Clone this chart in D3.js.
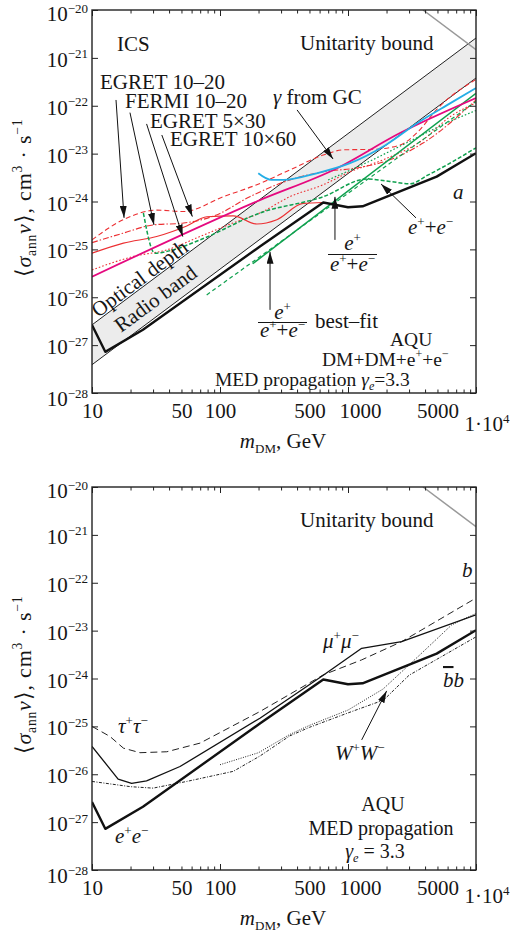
<!DOCTYPE html>
<html>
<head>
<meta charset="utf-8">
<script src="https://cdn.jsdelivr.net/npm/d3@7"></script>
<style>
  body { margin: 0; background: #fff; }
  text { font-family: "Liberation Serif", "Times New Roman", serif; fill: #161616; }
</style>
</head>
<body>
<svg id="chart" width="511" height="937"></svg>
<script>
// ---- axis values ----
const massTicks = [10, 50, 100, 500, 1000, 5000];
const sigmaTicks = [1e-28, 1e-27, 1e-26, 1e-25, 1e-24, 1e-23, 1e-22, 1e-21, 1e-20];
const sigmaTickPowers = [-28, -27, -26, -25, -24, -23, -22, -21, -20];

// ---- unitarity bound and optical-depth / radio band ----
const unitarityMass = [3855, 10000];
const unitaritySigma = [1e-20, 1.49e-21];
const bandMass = [10, 10000];
const bandUpper = [2.65e-27, 2.6e-21];
const bandLower = [3.9e-28, 3.8e-22];

// ---- panel a: e+e- channel ----
const eeMass = [10, 12.7, 25, 205, 641, 1000, 1300, 4930, 10000];
const eeSigma = [2.63e-27, 7.24e-28, 2.09e-27, 1.15e-25, 9.55e-25, 7.59e-25, 7.94e-25, 3.31e-24, 1.02e-23];

const egret1020Mass = [10, 17.6, 32, 52, 106, 194, 352, 641, 919, 1577, 2547, 3500, 5000, 10000];
const egret1020Sigma = [1.58e-25, 4.17e-25, 6.61e-25, 6.17e-25, 1.26e-24, 2.24e-24, 4.57e-24, 9.33e-24, 1.20e-23, 1.23e-23, 1.51e-23, 2.82e-23, 8.71e-23, 3.55e-22];

const fermi1020Mass = [10, 17.6, 30, 52, 94, 171, 352, 641, 1167, 2125, 3860, 10000];
const fermi1020Sigma = [1.38e-25, 2.19e-25, 3.24e-25, 3.55e-25, 5.25e-25, 1.26e-24, 2.82e-24, 4.17e-24, 5.01e-24, 7.41e-24, 1.66e-23, 1.32e-22];

const egret530Mass = [10, 17.6, 32, 55, 79, 127, 194, 278, 445, 641];
const egret530Sigma = [8.32e-26, 1.35e-25, 1.86e-25, 3.09e-25, 4.79e-25, 5.01e-25, 3.39e-25, 4.17e-25, 9.12e-25, 9.55e-25];

const egret1060Mass = [10, 20.9, 38.4, 70, 126, 205, 352, 641, 1037, 1880, 3860, 6268, 10000];
const egret1060Sigma = [3.72e-26, 7.08e-26, 9.77e-26, 1.86e-25, 3.55e-25, 5.75e-25, 1.26e-24, 2.24e-24, 4.17e-24, 7.41e-24, 1.95e-23, 5.89e-23, 1.15e-22];

const gcMagentaMass = [10, 205, 815, 2547, 10000];
const gcMagentaSigma = [2.69e-26, 1.07e-24, 4.9e-24, 2.69e-23, 1.45e-22];

const gcCyanMass = [199, 253, 313, 569, 1037, 1888, 3443, 6268, 10000];
const gcCyanSigma = [3.89e-24, 2.82e-24, 2.82e-24, 3.89e-24, 6.31e-24, 1.41e-23, 4.27e-23, 1.12e-22, 2.34e-22];

const posFracMass = [180, 10000];
const posFracSigma = [5.01e-26, 1.82e-22];

const bestFitMass = [78.7, 10000];
const bestFitSigma = [1.12e-26, 1.23e-22];

const posDataMass = [25.2, 31, 43, 70, 205, 641, 1400, 2128, 3050, 4200, 10000];
const posDataSigma = [5.75e-25, 8.32e-26, 9.77e-26, 1.58e-25, 5.75e-25, 1.26e-24, 2.95e-24, 2.63e-24, 2.34e-24, 3.55e-24, 1.32e-23];

const posDotMass = [700, 1500, 3000, 6000, 10000];
const posDotSigma = [2.82e-24, 7.08e-24, 1.78e-23, 4.47e-23, 7.94e-23];

// ---- panel b: other channels ----
const muMass = [10, 16, 20.4, 26.7, 48.7, 205, 641, 1279, 2625, 10000];
const muSigma = [3.80e-26, 7.94e-27, 6.46e-27, 7.24e-27, 1.45e-26, 1.48e-25, 1.17e-24, 4.27e-24, 5.89e-24, 2.14e-23];

const tauMass = [10, 13.8, 17.6, 23.7, 38.4, 69.8, 205, 641, 1279, 2625, 10000];
const tauSigma = [1.0e-25, 6.17e-26, 3.51e-26, 2.82e-26, 2.95e-26, 4.47e-26, 2.04e-25, 1.19e-24, 2.45e-24, 5.89e-24, 4.79e-23];

const bbMass = [10, 20, 30, 55, 127, 205, 350, 500, 1000, 1900, 3000, 10000];
const bbSigma = [7.08e-27, 5.50e-27, 5.13e-27, 7.08e-27, 1.15e-26, 2.40e-26, 6.31e-26, 9.55e-26, 1.91e-25, 3.55e-25, 1.17e-24, 7.41e-24];

const wwMass = [100, 200, 350, 500, 1000, 1880, 3500, 6460, 10000];
const wwSigma = [1.58e-26, 2.82e-26, 6.76e-26, 1.05e-25, 2.19e-25, 6.03e-25, 2.82e-24, 1.32e-23, 2.29e-23];

// annotation arrows, [mass from, sigma from, mass to, sigma to]
const arrowsA = [
  [15.4, 1.32e-22, 17.8, 4.55e-25],
  [19.8, 7.18e-23, 30.5, 3.24e-25],
  [26.7, 4.17e-23, 51.2, 1.85e-25],
  [35.1, 2.45e-23, 60.8, 4.84e-25],
  [400, 8.17e-23, 764, 7.74e-24],
  [3397, 4.55e-25, 1811, 2.33e-24],
  [791, 1.58e-25, 791, 1.25e-24],
  [246, 5.46e-27, 246, 8.87e-26]
];
const arrowsB = [
  [1279, 5.22e-26, 2004, 5.51e-25]
];

// ---- layout ----
const svg = d3.select("#chart");
const left = 92, right = 476, plotH = 383;
const panelTops = [10, 487];

const RED = "#ec2f32", MAGENTA = "#e5097f", CYAN = "#25aee6", GREEN = "#0fa04e";

const defs = svg.append("defs");
defs.append("marker")
  .attr("id", "arrowhead")
  .attr("viewBox", "0 0 12 7")
  .attr("refX", 12).attr("refY", 3.5)
  .attr("markerWidth", 12).attr("markerHeight", 7)
  .attr("markerUnits", "userSpaceOnUse")
  .attr("orient", "auto")
  .append("path").attr("d", "M0,0L12,3.5L0,7Z").attr("fill", "#111");

// text with italic / superscript / subscript runs
function rich(parent, x, y, parts, size, anchor) {
  size = size || 21;
  const t = parent.append("text")
    .attr("x", x).attr("y", y)
    .attr("font-size", size)
    .attr("text-anchor", anchor || "start");
  let shift = 0;
  parts.forEach(p => {
    const s = p.sup ? -0.4 * size : p.sub ? 0.22 * size : 0;
    const ts = t.append("tspan").text(p.t).attr("dy", s - shift);
    shift = s;
    if (p.sup || p.sub) ts.attr("font-size", size * 0.62);
    if (p.i) ts.attr("font-style", "italic");
    if (p.over) ts.style("text-decoration", "overline");
  });
  return t;
}

function makePanel(top, idx) {
  const bottom = top + plotH;
  const x = d3.scaleLog().domain([10, 1e4]).range([left, right]);
  const y = d3.scaleLog().domain([1e-28, 1e-20]).range([bottom, top]);
  const g = svg.append("g");

  defs.append("clipPath").attr("id", "clip" + idx)
    .append("rect").attr("x", left).attr("y", top).attr("width", right - left).attr("height", plotH);

  const plot = g.append("g").attr("clip-path", `url(#clip${idx})`);

  // axes: inward ticks on all four sides
  const majors = [10, 100, 1000, 10000];
  const minors = x.ticks().filter(v => !majors.includes(v));
  const axes = g.append("g");
  const addX = (axisFn, ty) => {
    axes.append("g").attr("transform", `translate(0,${ty})`)
      .call(axisFn(x).tickValues(minors).tickSize(-3.5).tickFormat(""))
      .call(a => a.select(".domain").remove());
    axes.append("g").attr("transform", `translate(0,${ty})`)
      .call(axisFn(x).tickValues(majors).tickSize(-6).tickFormat(""))
      .call(a => a.select(".domain").remove());
  };
  addX(d3.axisBottom, bottom);
  addX(d3.axisTop, top);
  axes.append("g").attr("transform", `translate(${left},0)`)
    .call(d3.axisLeft(y).tickValues(sigmaTicks).tickSize(-6).tickFormat(""))
    .call(a => a.select(".domain").remove());
  axes.append("g").attr("transform", `translate(${right},0)`)
    .call(d3.axisRight(y).tickValues(sigmaTicks).tickSize(-6).tickFormat(""))
    .call(a => a.select(".domain").remove());
  axes.selectAll(".tick line").attr("stroke", "#222").attr("stroke-width", 1);

  // x tick labels
  const xl = g.append("g").attr("transform", `translate(0,${bottom})`)
    .call(d3.axisBottom(x).tickValues(massTicks).tickSize(0).tickPadding(10).tickFormat(d3.format("d")));
  xl.select(".domain").remove();
  xl.selectAll("text")
    .attr("font-size", 21)
    .attr("font-family", "Liberation Serif, serif")
    .attr("fill", "#161616")
    .attr("dx", d => d === 1000 ? 12 : 0);
  rich(g, x(1e4) + 11, bottom + (idx === 0 ? 38 : 33), [{ t: "1·10" }, { t: "4", sup: true }], 21, "middle");

  // y tick labels
  sigmaTicks.forEach((v, i) => {
    const dy = i === 0 ? 13 : (i === sigmaTicks.length - 1 ? 11 : 9);
    rich(g, left - 4, y(v) + dy, [{ t: "10" }, { t: "\u2212" + (-sigmaTickPowers[i]), sup: true }], 21, "end");
  });

  // axis titles
  rich(g, 283, bottom + 55, [{ t: "m", i: true }, { t: "DM", sub: true }, { t: ", GeV" }], 21, "middle");
  rich(g, 0, 0, [
    { t: "\u27E8" }, { t: "σ", i: true }, { t: "ann", sub: true }, { t: "v", i: true },
    { t: "\u27E9, cm" }, { t: "3", sup: true }, { t: " · s" }, { t: "\u22121", sup: true }
  ], 22, "middle")
    .attr("letter-spacing", 0.8)
    .attr("transform", `translate(31,${top + 188}) rotate(-90)`);

  // frame
  g.append("rect").attr("x", left).attr("y", top).attr("width", right - left).attr("height", plotH)
    .attr("fill", "none").attr("stroke", "#222").attr("stroke-width", 1.4);

  return { g, plot, x, y, top, bottom };
}

function curve(p, mass, sigma, style, shape) {
  const line = d3.line().x(d => p.x(d[0])).y(d => p.y(d[1])).curve(shape || d3.curveLinear);
  const path = p.plot.append("path")
    .datum(d3.zip(mass, sigma))
    .attr("d", line)
    .attr("fill", "none")
    .attr("stroke", style.color)
    .attr("stroke-width", style.width || 1.2)
    .attr("stroke-linejoin", "round");
  if (style.dash) path.attr("stroke-dasharray", style.dash);
  return path;
}

function arrows(p, list) {
  list.forEach(a => {
    p.g.append("line")
      .attr("x1", p.x(a[0])).attr("y1", p.y(a[1]))
      .attr("x2", p.x(a[2])).attr("y2", p.y(a[3]))
      .attr("stroke", "#111").attr("stroke-width", 1)
      .attr("marker-end", "url(#arrowhead)");
  });
}

// ================= panel a =================
const pa = makePanel(panelTops[0], 0);

// band between optical-depth and radio-band limits
const bandArea = d3.area()
  .x(d => pa.x(d[0])).y0(d => pa.y(d[2])).y1(d => pa.y(d[1]));
pa.plot.append("path")
  .datum(d3.zip(bandMass, bandUpper, bandLower))
  .attr("d", bandArea).attr("fill", "#ececec");
curve(pa, bandMass, bandUpper, { color: "#222", width: 1 });
curve(pa, bandMass, bandLower, { color: "#222", width: 1 });
curve(pa, unitarityMass, unitaritySigma, { color: "#999", width: 1.5 });

const smooth = d3.curveMonotoneX;
curve(pa, egret1060Mass, egret1060Sigma, { color: RED, width: 1.1, dash: "1.6,2" }, smooth);
curve(pa, egret1020Mass, egret1020Sigma, { color: RED, width: 1.1, dash: "5,3" }, smooth);
curve(pa, fermi1020Mass, fermi1020Sigma, { color: RED, width: 1.1, dash: "6,2,1.5,2" }, smooth);
curve(pa, egret530Mass, egret530Sigma, { color: RED, width: 1.1 }, smooth);
curve(pa, bestFitMass, bestFitSigma, { color: GREEN, width: 1.2, dash: "4,3" });
curve(pa, posFracMass, posFracSigma, { color: GREEN, width: 1.5 });
curve(pa, posDotMass, posDotSigma, { color: GREEN, width: 1.2, dash: "1.6,2" }, smooth);
curve(pa, posDataMass, posDataSigma, { color: GREEN, width: 1.5, dash: "4,2" }, smooth);
curve(pa, gcMagentaMass, gcMagentaSigma, { color: MAGENTA, width: 1.8 }, smooth);
curve(pa, gcCyanMass, gcCyanSigma, { color: CYAN, width: 1.8 }, smooth);
curve(pa, eeMass, eeSigma, { color: "#111", width: 2.4 });

arrows(pa, arrowsA);

// labels, panel a
rich(pa.g, 117, 51, [{ t: "ICS" }]);
rich(pa.g, 300, 50, [{ t: "Unitarity bound" }]);
rich(pa.g, 100, 89, [{ t: "EGRET 10–20" }]);
rich(pa.g, 125, 108, [{ t: "FERMI 10–20" }]);
rich(pa.g, 150, 128, [{ t: "EGRET 5×30" }]);
rich(pa.g, 170, 146, [{ t: "EGRET 10×60" }]);
rich(pa.g, 273, 104, [{ t: "γ", i: true }, { t: " from GC" }]);
rich(pa.g, 453, 199, [{ t: "a", i: true }]);
const ePlusMinus = [{ t: "e", i: true }, { t: "+", sup: true }, { t: "+" }, { t: "e", i: true }, { t: "\u2212", sup: true }];
rich(pa.g, 408, 234, ePlusMinus);

function fraction(g, cx, yNum, yBar, yDen, half) {
  rich(g, cx, yNum, [{ t: "e", i: true }, { t: "+", sup: true }], 21, "middle");
  g.append("line").attr("x1", cx - half).attr("x2", cx + half).attr("y1", yBar).attr("y2", yBar)
    .attr("stroke", "#161616").attr("stroke-width", 1);
  rich(g, cx, yDen, ePlusMinus, 21, "middle");
}
fraction(pa.g, 352.5, 250, 254.5, 271, 24.5);
fraction(pa.g, 282.5, 319, 322.5, 337, 24.5);
rich(pa.g, 315, 328, [{ t: "best–fit" }]);

rich(pa.g, 390, 346, [{ t: "AQU" }], 19.5);
rich(pa.g, 322, 366, [{ t: "DM+DM+e" }, { t: "+", sup: true }, { t: "+e" }, { t: "\u2212", sup: true }], 19.5);
rich(pa.g, 215, 386, [{ t: "MED propagation  " }, { t: "γ", i: true }, { t: "e", i: true, sub: true }, { t: "=3.3" }], 19.5);

rich(pa.g, 0, 0, [{ t: "Optical depth" }]).attr("transform", "translate(98,318) rotate(-36.5)");
rich(pa.g, 0, 0, [{ t: "Radio band" }]).attr("transform", "translate(121,333) rotate(-36.5)");

// ================= panel b =================
const pb = makePanel(panelTops[1], 1);
curve(pb, unitarityMass, unitaritySigma, { color: "#999", width: 1.5 });
curve(pb, wwMass, wwSigma, { color: "#222", width: 1, dash: "1,1.4" });
curve(pb, bbMass, bbSigma, { color: "#222", width: 1, dash: "3,1.5,1,1.5" });
curve(pb, tauMass, tauSigma, { color: "#222", width: 1, dash: "7,4" });
curve(pb, muMass, muSigma, { color: "#111", width: 1.3 });
curve(pb, eeMass, eeSigma, { color: "#111", width: 2.4 });
arrows(pb, arrowsB);

rich(pb.g, 300, 527, [{ t: "Unitarity bound" }]);
rich(pb.g, 462, 577, [{ t: "b", i: true }]);
rich(pb.g, 323, 648, [{ t: "μ", i: true }, { t: "+", sup: true }, { t: "μ", i: true }, { t: "\u2212", sup: true }]);
rich(pb.g, 443, 687, [{ t: "b", i: true, over: true }, { t: "b", i: true }]);
rich(pb.g, 118, 733, [{ t: "τ", i: true }, { t: "+", sup: true }, { t: "τ", i: true }, { t: "\u2212", sup: true }]);
rich(pb.g, 115, 843, [{ t: "e", i: true }, { t: "+", sup: true }, { t: "e", i: true }, { t: "\u2212", sup: true }]);
rich(pb.g, 335, 760, [{ t: "W", i: true }, { t: "+", sup: true }, { t: "W", i: true }, { t: "\u2212", sup: true }]);
rich(pb.g, 383, 811, [{ t: "AQU" }], 20, "middle");
rich(pb.g, 381, 835, [{ t: "MED propagation" }], 20, "middle");
rich(pb.g, 375, 858, [{ t: "γ", i: true }, { t: "e", i: true, sub: true }, { t: " = 3.3" }], 20, "middle");
</script>
</body>
</html>
